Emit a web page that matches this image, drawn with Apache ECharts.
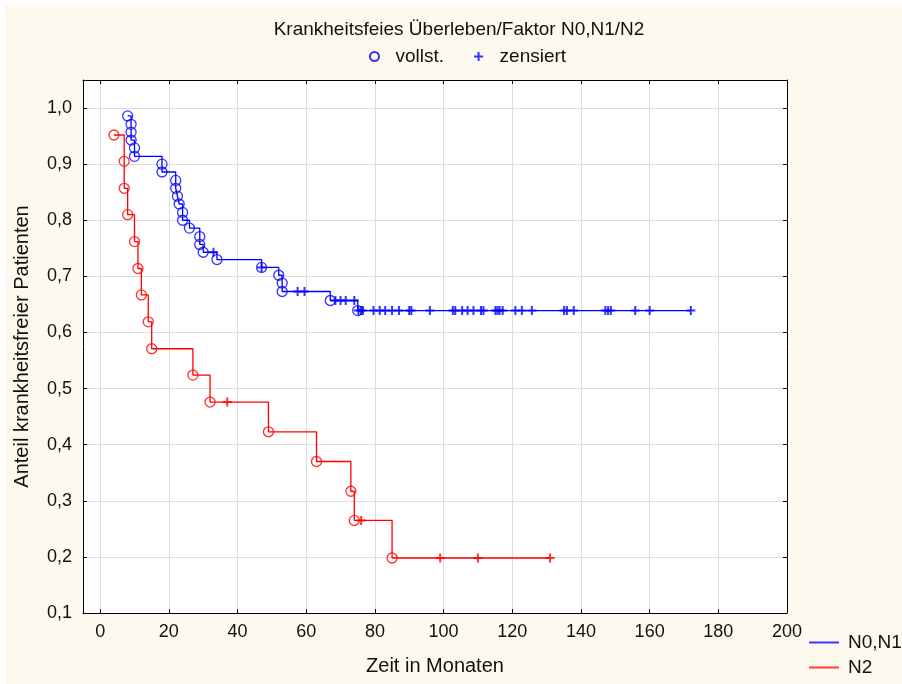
<!DOCTYPE html>
<html>
<head>
<meta charset="utf-8">
<script src="https://cdn.jsdelivr.net/npm/echarts@6/dist/echarts.min.js"></script>
<style>
  html, body { margin: 0; padding: 0; background: #ffffff; }
  #wrap { position: relative; width: 902px; height: 684px; overflow: hidden; }
  #paper { position: absolute; left: 5px; top: 5px; right: 0; bottom: 0; background: #fdf9ee; }
  #chart { position: absolute; left: 0; top: 0; width: 902px; height: 684px; }
</style>
</head>
<body>
<div id="wrap">
  <div id="paper"></div>
  <div id="chart"></div>
</div>
<script>
// Axis ticks
const xTicks = [0, 20, 40, 60, 80, 100, 120, 140, 160, 180, 200];
const yTicks = [0.1, 0.2, 0.3, 0.4, 0.5, 0.6, 0.7, 0.8, 0.9, 1.0];

// N0,N1 group: complete observations (events) and censored observations
const n01EventTimes = [8, 9, 9, 9, 10, 10, 18, 18, 22, 22, 22.5, 23, 24, 24, 26, 29, 29, 30, 34, 47, 52, 53, 53, 67, 75];
const n01EventSurv  = [0.986, 0.971, 0.957, 0.943, 0.929, 0.914, 0.900, 0.886, 0.871, 0.857, 0.843, 0.829, 0.814, 0.800, 0.786, 0.771, 0.757, 0.743, 0.730, 0.716, 0.702, 0.688, 0.673, 0.657, 0.639];
const n01CensorTimes = [33, 47, 57.5, 59.5, 68.5, 70, 71.5, 74, 75.2, 75.9, 76.5, 79.6, 81.4, 83, 85, 87, 90, 90.6, 96, 102.7, 103.4, 105.4, 107, 108.7, 110.9, 111.6, 115.1, 115.7, 116.3, 117.2, 120.9, 122.8, 125.7, 135.1, 135.9, 137.9, 147.1, 147.9, 148.7, 155.8, 160, 172];
const n01CensorSurv  = [0.743, 0.716, 0.673, 0.673, 0.657, 0.657, 0.657, 0.657, 0.639, 0.639, 0.639, 0.639, 0.639, 0.639, 0.639, 0.639, 0.639, 0.639, 0.639, 0.639, 0.639, 0.639, 0.639, 0.639, 0.639, 0.639, 0.639, 0.639, 0.639, 0.639, 0.639, 0.639, 0.639, 0.639, 0.639, 0.639, 0.639, 0.639, 0.639, 0.639, 0.639, 0.639];

// N2 group
const n2EventTimes = [4, 7, 7, 8, 10, 11, 12, 14, 15, 27, 32, 49, 63, 73, 74, 85];
const n2EventSurv  = [0.952, 0.905, 0.857, 0.810, 0.762, 0.714, 0.667, 0.619, 0.571, 0.524, 0.476, 0.423, 0.370, 0.317, 0.265, 0.198];
const n2CensorTimes = [37, 76, 99, 110, 131];
const n2CensorSurv  = [0.476, 0.265, 0.198, 0.198, 0.198];

const FONT = "'Liberation Sans', Arial, Helvetica, sans-serif";
const TXT = '#111111';
const BLUE = '#0000ff';
const RED = '#ff0000';
const PLUS = 'path://M3.5,0H5.5V3.5H9V5.5H5.5V9H3.5V5.5H0V3.5H3.5Z';
const LINE_ICON = 'path://M0,0H30V2H0Z';

function pairs(ts, ss) { return ts.map((t, i) => [t, ss[i]]); }

// Step curve through events and censored points, ordered by time
function stepPoints(et, es, ct, cs) {
  const pts = pairs(et, es).concat(pairs(ct, cs));
  pts.sort((a, b) => (a[0] - b[0]) || (b[1] - a[1]));
  return pts;
}

const fmtComma = v => v.toFixed(1).replace('.', ',');

const chart = echarts.init(document.getElementById('chart'), null, { renderer: 'canvas' });

const axisLine = { show: true, onZero: false, lineStyle: { color: '#000', width: 1 } };
const tickIn = { show: true, inside: true, length: 4, lineStyle: { color: '#000', width: 1 } };

chart.setOption({
  backgroundColor: 'transparent',
  animation: false,
  textStyle: { fontFamily: FONT },
  title: {
    text: 'Krankheitsfeies Überleben/Faktor N0,N1/N2',
    left: 454,
    top: 15,
    textAlign: 'center',
    textStyle: { fontFamily: FONT, fontSize: 19, fontWeight: 'normal', color: TXT }
  },
  legend: [
    {
      data: [
        { name: 'vollst.', icon: 'circle' },
        { name: 'zensiert', icon: PLUS }
      ],
      left: 364,
      top: 42,
      itemWidth: 32,
      itemHeight: 9,
      itemGap: 30,
      selectedMode: false,
      textStyle: { fontFamily: FONT, fontSize: 19, color: TXT }
    },
    {
      data: [
        { name: 'N0,N1', icon: LINE_ICON, itemStyle: { color: '#3a3aff' } },
        { name: 'N2', icon: LINE_ICON, itemStyle: { color: '#ff3a3a' } }
      ],
      orient: 'vertical',
      left: 804,
      top: 628,
      itemWidth: 30,
      itemHeight: 14,
      itemGap: 6,
      selectedMode: false,
      textStyle: { fontFamily: FONT, fontSize: 19, color: TXT, padding: [0, 0, 0, 4] }
    }
  ],
  grid: {
    left: 83, top: 80, right: 115, bottom: 71,
    show: true, backgroundColor: '#ffffff', borderWidth: 0
  },
  xAxis: [
    {
      type: 'value', min: -5, max: 200, position: 'bottom',
      name: 'Zeit in Monaten', nameLocation: 'middle', nameGap: 43,
      nameTextStyle: { fontFamily: FONT, fontSize: 20, color: TXT },
      axisLine: axisLine,
      axisTick: Object.assign({ customValues: xTicks }, tickIn),
      axisLabel: { customValues: xTicks, margin: 10, fontFamily: FONT, fontSize: 18, color: TXT },
      splitLine: { show: true, lineStyle: { color: '#dddddd', width: 1 } }
    },
    {
      type: 'value', min: -5, max: 200, position: 'top',
      axisLine: axisLine,
      axisTick: Object.assign({ customValues: xTicks }, tickIn),
      axisLabel: { show: false },
      splitLine: { show: false }
    }
  ],
  yAxis: [
    {
      type: 'value', min: 0.1, max: 1.05, position: 'left',
      name: 'Anteil krankheitsfreier Patienten', nameLocation: 'middle', nameGap: 51, nameRotate: 90,
      nameTextStyle: { fontFamily: FONT, fontSize: 20, color: TXT },
      axisLine: axisLine,
      axisTick: Object.assign({ customValues: yTicks }, tickIn),
      axisLabel: { customValues: yTicks, margin: 11, formatter: fmtComma, fontFamily: FONT, fontSize: 18, color: TXT },
      splitLine: { show: true, lineStyle: { color: '#dddddd', width: 1 } }
    },
    {
      type: 'value', min: 0.1, max: 1.05, position: 'right',
      axisLine: axisLine,
      axisTick: Object.assign({ customValues: yTicks }, tickIn),
      axisLabel: { show: false },
      splitLine: { show: false }
    }
  ],
  series: [
    {
      name: 'N0,N1', type: 'line', step: 'end', symbol: 'none',
      data: stepPoints(n01EventTimes, n01EventSurv, n01CensorTimes, n01CensorSurv),
      lineStyle: { color: BLUE, width: 1.3 }, itemStyle: { color: BLUE }, z: 2
    },
    {
      name: 'N2', type: 'line', step: 'end', symbol: 'none',
      data: stepPoints(n2EventTimes, n2EventSurv, n2CensorTimes, n2CensorSurv),
      lineStyle: { color: RED, width: 1.3 }, itemStyle: { color: RED }, z: 2
    },
    {
      name: 'vollst.', type: 'scatter', symbol: 'circle', symbolSize: 10,
      data: pairs(n01EventTimes, n01EventSurv),
      itemStyle: { color: 'rgba(255,255,255,0)', borderColor: BLUE, borderWidth: 1.3 }, z: 3
    },
    {
      name: 'zensiert', type: 'scatter', symbol: PLUS, symbolSize: 9,
      data: pairs(n01CensorTimes, n01CensorSurv),
      itemStyle: { color: BLUE }, z: 3
    },
    {
      name: 'vollst.', type: 'scatter', symbol: 'circle', symbolSize: 10,
      data: pairs(n2EventTimes, n2EventSurv),
      itemStyle: { color: 'rgba(255,255,255,0)', borderColor: RED, borderWidth: 1.3 }, z: 3
    },
    {
      name: 'zensiert', type: 'scatter', symbol: PLUS, symbolSize: 9,
      data: pairs(n2CensorTimes, n2CensorSurv),
      itemStyle: { color: RED }, z: 3
    }
  ]
});
</script>
</body>
</html>
